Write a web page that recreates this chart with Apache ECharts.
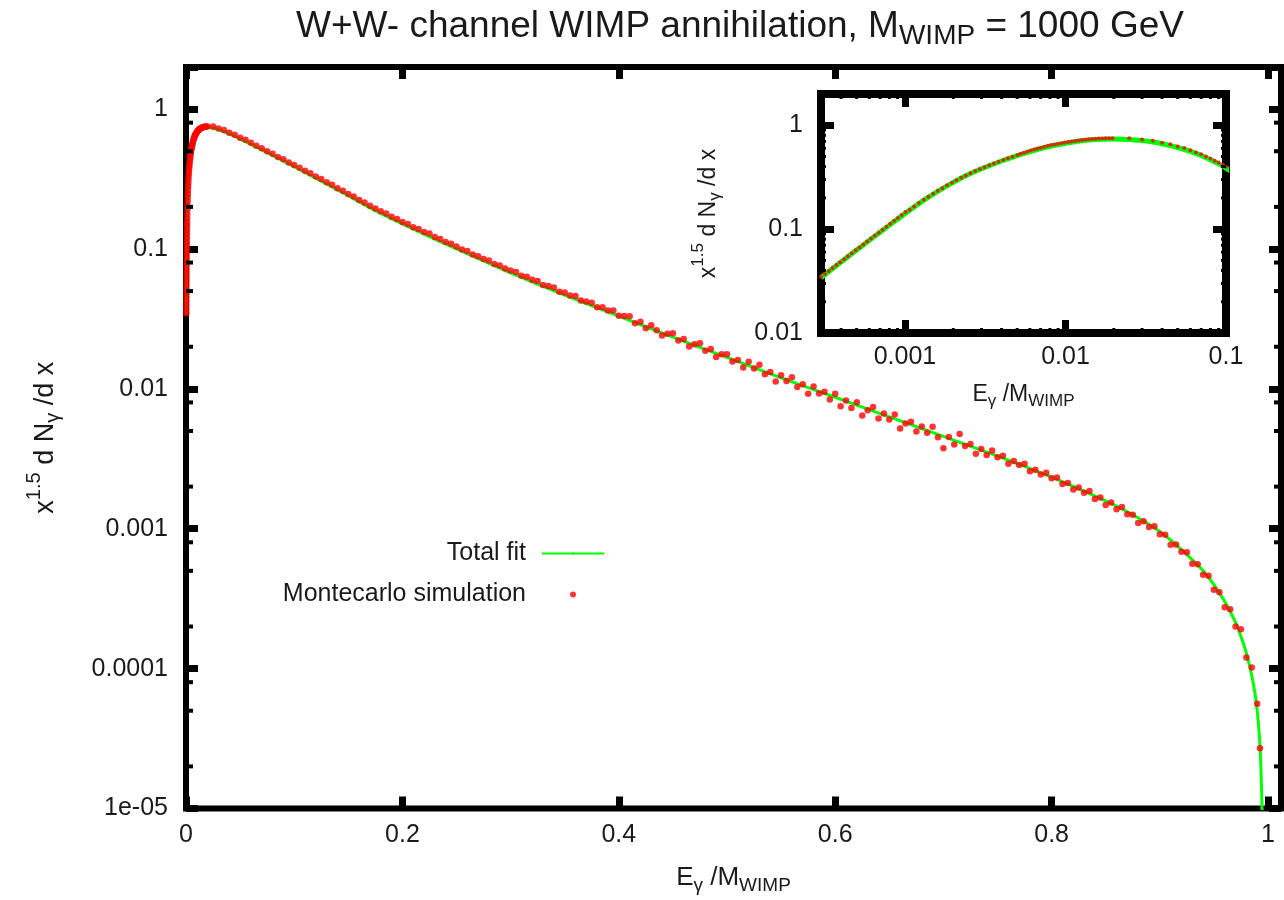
<!DOCTYPE html>
<html>
<head>
<meta charset="utf-8">
<title>W+W- channel WIMP annihilation, M_WIMP = 1000 GeV</title>
<script src="https://cdn.jsdelivr.net/npm/echarts@6/dist/echarts.min.js"></script>
<style>
  html, body { margin: 0; padding: 0; background: #ffffff; }
  #chart { width: 1284px; height: 900px; }
</style>
</head>
<body>
<div id="chart"></div>
<script>
// Photon spectrum x^1.5 dN/dx against x = E_gamma / M_WIMP (W+W- channel, M_WIMP = 1000 GeV)

// Total fit curve: [x, x^1.5 dN/dx]
const fitCurve = [
  [0.0003, 0.0341], [0.0004, 0.0483], [0.0005, 0.0630], [0.0006, 0.0780], [0.0008, 0.109],
  [0.001, 0.141], [0.0013, 0.188], [0.0016, 0.231], [0.002, 0.282], [0.0025, 0.337],
  [0.003, 0.381], [0.004, 0.453], [0.005, 0.510], [0.006, 0.558], [0.008, 0.628],
  [0.01, 0.672], [0.012, 0.702], [0.014, 0.720], [0.017, 0.734], [0.02, 0.738],
  [0.025, 0.730], [0.03, 0.712], [0.035, 0.689], [0.04, 0.664], [0.045, 0.637],
  [0.05, 0.611], [0.06, 0.560], [0.07, 0.511], [0.08, 0.466], [0.09, 0.425],
  [0.1, 0.387], [0.125, 0.305], [0.15, 0.240], [0.175, 0.188], [0.2, 0.151],
  [0.25, 0.100], [0.3, 0.0676], [0.35, 0.0468], [0.4, 0.0331], [0.45, 0.0234],
  [0.5, 0.0168], [0.55, 0.0120], [0.6, 0.00871], [0.65, 0.00631], [0.7, 0.00457],
  [0.75, 0.00331], [0.8, 0.00234], [0.85, 0.00158], [0.875, 0.00126], [0.9, 0.000955],
  [0.92, 0.000708], [0.94, 0.000501], [0.95, 0.000398], [0.96, 0.000302], [0.97, 0.000214],
  [0.975, 0.00017], [0.98, 0.000129], [0.985, 0.0000891], [0.988, 0.0000661], [0.99, 0.0000501],
  [0.992, 0.0000331], [0.993, 0.000024], [0.994, 0.0000141], [0.995, 0.0000063]
];

// Monte Carlo simulation, fine low-energy bins: [x, x^1.5 dN/dx]
const mcLow = [
  [0.000300, 0.0347], [0.000317, 0.0370], [0.000335, 0.0395], [0.000354, 0.0422], [0.000374, 0.0451],
  [0.000395, 0.0481], [0.000418, 0.0513], [0.000441, 0.0548], [0.000466, 0.0585], [0.000493, 0.0625],
  [0.000521, 0.0667], [0.000550, 0.0711], [0.000581, 0.0760], [0.000614, 0.0811], [0.000649, 0.0867],
  [0.000686, 0.0925], [0.000725, 0.0987], [0.000766, 0.1054], [0.000809, 0.1125], [0.000855, 0.1202],
  [0.000903, 0.1283], [0.000954, 0.1368], [0.001008, 0.146],
  [0.00107, 0.154], [0.00114, 0.165], [0.00122, 0.178], [0.00131, 0.192], [0.00140, 0.205],
  [0.00150, 0.2195], [0.00160, 0.234], [0.00171, 0.248], [0.00183, 0.264], [0.00196, 0.280],
  [0.00209, 0.295], [0.00224, 0.312], [0.00239, 0.328], [0.00256, 0.346], [0.00274, 0.362],
  [0.00293, 0.380], [0.00313, 0.396], [0.00335, 0.412], [0.00358, 0.429], [0.00383, 0.446],
  [0.00410, 0.464], [0.00438, 0.481], [0.00468, 0.498], [0.00501, 0.516],
  [0.00525, 0.532], [0.00551, 0.545], [0.00579, 0.558], [0.00608, 0.571], [0.00638, 0.583],
  [0.00670, 0.596], [0.00704, 0.609], [0.00739, 0.622], [0.00776, 0.635], [0.00815, 0.644],
  [0.00855, 0.653], [0.00898, 0.663], [0.00943, 0.673], [0.00990, 0.682], [0.01040, 0.691],
  [0.01092, 0.699], [0.01146, 0.707], [0.01203, 0.715], [0.01264, 0.721], [0.01327, 0.727],
  [0.01393, 0.734], [0.01463, 0.737], [0.01536, 0.740], [0.01613, 0.744], [0.01693, 0.747],
  [0.01778, 0.749], [0.01867, 0.750], [0.01960, 0.751]
];

// Monte Carlo simulation, coarse bins up to the kinematic end point: [x, x^1.5 dN/dx]
const mcHigh = [
  [0.025, 0.750], [0.030, 0.728], [0.035, 0.708], [0.040, 0.679], [0.045, 0.655],
  [0.050, 0.625], [0.055, 0.603], [0.060, 0.575], [0.065, 0.547], [0.070, 0.526],
  [0.075, 0.500], [0.080, 0.479], [0.085, 0.455], [0.090, 0.438], [0.095, 0.416],
  [0.100, 0.398], [0.105, 0.381], [0.110, 0.362], [0.115, 0.348], [0.120, 0.330],
  [0.125, 0.316], [0.130, 0.300], [0.135, 0.288], [0.140, 0.272], [0.145, 0.261],
  [0.150, 0.247], [0.155, 0.237], [0.160, 0.224], [0.165, 0.215], [0.170, 0.204],
  [0.175, 0.195], [0.180, 0.186], [0.185, 0.179], [0.190, 0.170], [0.195, 0.164],
  [0.200, 0.156], [0.205, 0.151], [0.210, 0.143], [0.215, 0.139], [0.220, 0.132],
  [0.225, 0.129], [0.230, 0.122], [0.235, 0.118], [0.240, 0.112], [0.245, 0.109],
  [0.250, 0.104], [0.255, 0.0991], [0.260, 0.0966], [0.265, 0.0914], [0.270, 0.0889],
  [0.275, 0.0849], [0.280, 0.0828], [0.285, 0.0780], [0.290, 0.0762], [0.295, 0.0724],
  [0.300, 0.0702], [0.305, 0.0686], [0.310, 0.0643], [0.315, 0.0632], [0.320, 0.0603],
  [0.325, 0.0590], [0.330, 0.0553], [0.335, 0.0543], [0.340, 0.0531], [0.345, 0.0494],
  [0.350, 0.0488], [0.355, 0.0465], [0.360, 0.0461], [0.365, 0.0428], [0.370, 0.0422],
  [0.375, 0.0413], [0.380, 0.0384], [0.385, 0.0383], [0.390, 0.0364], [0.395, 0.0364],
  [0.400, 0.0333], [0.405, 0.0332], [0.410, 0.0331], [0.415, 0.0295], [0.420, 0.0302],
  [0.425, 0.0271], [0.430, 0.0285], [0.435, 0.0262], [0.440, 0.0241], [0.445, 0.0248],
  [0.450, 0.0250], [0.455, 0.0222], [0.460, 0.0227], [0.465, 0.0201], [0.470, 0.0208],
  [0.475, 0.0212], [0.480, 0.0187], [0.485, 0.0193], [0.490, 0.0169], [0.495, 0.0177],
  [0.500, 0.0177], [0.505, 0.0157], [0.510, 0.0161], [0.515, 0.0142], [0.520, 0.0156],
  [0.525, 0.0140], [0.530, 0.0149], [0.535, 0.0127], [0.540, 0.0132], [0.545, 0.0113],
  [0.550, 0.0125], [0.555, 0.0114], [0.560, 0.0121], [0.565, 0.0103], [0.570, 0.0108],
  [0.575, 0.00923], [0.580, 0.0104], [0.585, 0.00927], [0.590, 0.00955], [0.595, 0.00839],
  [0.600, 0.00923], [0.605, 0.00752], [0.610, 0.00826], [0.615, 0.00730], [0.620, 0.00802],
  [0.625, 0.00646], [0.630, 0.00702], [0.635, 0.00741], [0.640, 0.00614], [0.645, 0.00667],
  [0.650, 0.00603], [0.655, 0.00655], [0.660, 0.00521], [0.665, 0.00566], [0.670, 0.00583],
  [0.675, 0.00495], [0.680, 0.00538], [0.685, 0.00486], [0.690, 0.00535], [0.695, 0.00451],
  [0.700, 0.00376], [0.705, 0.00453], [0.710, 0.00400], [0.715, 0.00476], [0.720, 0.00391],
  [0.725, 0.00403], [0.730, 0.00344], [0.735, 0.00372], [0.740, 0.00337], [0.745, 0.00362],
  [0.750, 0.00324], [0.755, 0.00333], [0.760, 0.00292], [0.765, 0.00305], [0.770, 0.00285],
  [0.775, 0.00292], [0.780, 0.00258], [0.785, 0.00264], [0.790, 0.00244], [0.795, 0.00251],
  [0.800, 0.00230], [0.805, 0.00232], [0.810, 0.00209], [0.815, 0.00212], [0.820, 0.00191],
  [0.825, 0.00197], [0.830, 0.00181], [0.835, 0.00186], [0.840, 0.00163], [0.845, 0.00167],
  [0.850, 0.00148], [0.855, 0.00154], [0.860, 0.00138], [0.865, 0.00143], [0.870, 0.00127],
  [0.875, 0.00126], [0.880, 0.00110], [0.885, 0.00113], [0.890, 0.00103], [0.895, 0.00104],
  [0.900, 0.000912], [0.905, 0.000906], [0.910, 0.000767], [0.915, 0.000771], [0.920, 0.000684],
  [0.925, 0.000679], [0.930, 0.000562], [0.935, 0.000558], [0.940, 0.000468], [0.945, 0.000462],
  [0.950, 0.000367], [0.955, 0.000351], [0.960, 0.000275], [0.965, 0.000266], [0.970, 0.000200],
  [0.975, 0.000191], [0.980, 0.000120], [0.985, 0.000102], [0.990, 0.0000562], [0.9925, 0.0000270]
];

// Tick values and their printed labels
const mainXTicks = [0, 0.2, 0.4, 0.6, 0.8, 1];
const mainXTickLabels = ['0', '0.2', '0.4', '0.6', '0.8', '1'];
const mainYTicks = [1e-5, 1e-4, 1e-3, 1e-2, 0.1, 1];
const mainYTickLabels = ['1e-05', '0.0001', '0.001', '0.01', '0.1', '1'];
const mainYMinorTicks = [2e-5, 5e-5, 8e-5, 2e-4, 5e-4, 8e-4, 0.002, 0.005, 0.008,
                         0.02, 0.05, 0.08, 0.2, 0.5, 0.8];
const insetXTicks = [0.001, 0.01, 0.1];
const insetXTickLabels = ['0.001', '0.01', '0.1'];
const insetXMinorTicks = [0.0004, 0.0005, 0.0006, 0.0007, 0.0008, 0.0009,
                          0.002, 0.003, 0.004, 0.005, 0.006, 0.007, 0.008, 0.009,
                          0.02, 0.03, 0.04, 0.05, 0.06, 0.07, 0.08, 0.09];
const insetYTicks = [0.01, 0.1, 1];
const insetYTickLabels = ['0.01', '0.1', '1'];
const insetYMinorTicks = [0.02, 0.03, 0.04, 0.05, 0.06, 0.07, 0.08, 0.09,
                          0.2, 0.3, 0.4, 0.5, 0.6, 0.7, 0.8, 0.9];

const FONT = "'Liberation Sans', Arial, sans-serif";
const INK = '#1a1a1a';
const GREEN = '#00ff00';
const RED = '#ff0000';

const mcPoints = mcLow.concat(mcHigh);

function tickFormatter(ticks, labels) {
  return function (v) {
    for (let i = 0; i < ticks.length; i++) {
      const t = ticks[i];
      const hit = t === 0 ? Math.abs(v) < 1e-9 : Math.abs(v / t - 1) < 1e-6;
      if (hit) return labels[i];
    }
    return '';
  };
}

// Short inward marks on both opposite frame edges for minor tick values
function minorTickSeries(xIdx, yIdx, dim, values, ref, len, width) {
  return {
    type: 'custom',
    xAxisIndex: xIdx,
    yAxisIndex: yIdx,
    silent: true,
    clip: false,
    z: 6,
    data: values.map(v => (dim === 'y' ? [ref, v] : [v, ref])),
    renderItem: function (params, api) {
      const cs = params.coordSys;
      const p = api.coord([api.value(0), api.value(1)]);
      const style = { stroke: '#000', lineWidth: width };
      if (dim === 'y') {
        return {
          type: 'group',
          children: [
            { type: 'line', shape: { x1: cs.x, y1: p[1], x2: cs.x + len, y2: p[1] }, style: style },
            { type: 'line', shape: { x1: cs.x + cs.width, y1: p[1], x2: cs.x + cs.width - len, y2: p[1] }, style: style }
          ]
        };
      }
      return {
        type: 'group',
        children: [
          { type: 'line', shape: { x1: p[0], y1: cs.y + cs.height, x2: p[0], y2: cs.y + cs.height - len }, style: style },
          { type: 'line', shape: { x1: p[0], y1: cs.y, x2: p[0], y2: cs.y + len }, style: style }
        ]
      };
    }
  };
}

function labelStyle(margin) {
  return { margin: margin, fontSize: 25, color: INK, fontFamily: FONT };
}

// Rich text styles for axis titles with super- and subscripts
function nameRich(base, subSize, drop, baseTop) {
  return {
    fontFamily: FONT,
    color: INK,
    rich: {
      b: { fontSize: base, lineHeight: base, fontFamily: FONT, color: INK, verticalAlign: 'top', padding: [baseTop, 0, 0, 0] },
      sup: { fontSize: subSize, lineHeight: subSize, fontFamily: FONT, color: INK, verticalAlign: 'top', padding: [0, 0, 0, 0] },
      sub: { fontSize: subSize, lineHeight: subSize, fontFamily: FONT, color: INK, verticalAlign: 'top',
             padding: [baseTop + base / 2 + drop - subSize / 2, 0, 0, 0] }
    }
  };
}

const xName = '{b|E}{sub|γ}{b| /M}{sub|WIMP}';
const yName = '{b|x}{sup|1.5}{b| d N}{sub|γ}{b| /d x}';

const majorTick = (len, w) => ({ show: true, inside: true, length: len, lineStyle: { color: '#000', width: w } });

const chart = echarts.init(document.getElementById('chart'), null, { renderer: 'canvas' });

chart.setOption({
  animation: false,
  backgroundColor: '#ffffff',
  graphic: {
    elements: [{
      type: 'text',
      x: 740,
      y: 8,
      z: 10,
      style: {
        text: '{b|W+W- channel WIMP annihilation, M}{s|WIMP}{b| = 1000 GeV}',
        align: 'center',
        verticalAlign: 'top',
        fill: INK,
        rich: {
          b: { fontSize: 37, lineHeight: 37, fontFamily: FONT, fill: INK, verticalAlign: 'top', padding: [0, 0, 0, 0] },
          s: { fontSize: 28, lineHeight: 28, fontFamily: FONT, fill: INK, verticalAlign: 'top', padding: [14, 0, 0, 0] }
        }
      }
    }]
  },
  grid: [
    { left: 186, top: 67, width: 1101, height: 750, show: true, borderWidth: 6, borderColor: '#000', backgroundColor: 'transparent' },
    { left: 821, top: 94, width: 405, height: 239, show: true, borderWidth: 8, borderColor: '#000', backgroundColor: '#ffffff' }
  ],
  xAxis: [
    {
      gridIndex: 0, type: 'value', position: 'bottom', min: 0, max: 1.012, interval: 0.2,
      axisLine: { show: false, onZero: false }, splitLine: { show: false },
      axisTick: majorTick(12, 7),
      axisLabel: Object.assign(labelStyle(14), { formatter: tickFormatter(mainXTicks, mainXTickLabels) }),
      name: xName, nameLocation: 'middle', nameGap: 56,
      nameTextStyle: nameRich(26, 19, 8, 0)
    },
    {
      gridIndex: 0, type: 'value', position: 'top', min: 0, max: 1.012, interval: 0.2,
      axisLine: { show: false, onZero: false }, splitLine: { show: false },
      axisTick: majorTick(12, 7), axisLabel: { show: false }
    },
    {
      gridIndex: 1, type: 'log', logBase: 10, position: 'bottom', min: 0.0003, max: 0.1,
      axisLine: { show: false, onZero: false }, splitLine: { show: false },
      axisTick: majorTick(13, 7),
      axisLabel: Object.assign(labelStyle(12), { formatter: tickFormatter(insetXTicks, insetXTickLabels) }),
      name: xName, nameLocation: 'middle', nameGap: 50,
      nameTextStyle: nameRich(23, 17, 7, 0)
    },
    {
      gridIndex: 1, type: 'log', logBase: 10, position: 'top', min: 0.0003, max: 0.1,
      axisLine: { show: false, onZero: false }, splitLine: { show: false },
      axisTick: majorTick(13, 7), axisLabel: { show: false }
    }
  ],
  yAxis: [
    {
      gridIndex: 0, type: 'log', logBase: 10, position: 'left', min: 1e-5, max: 2,
      axisLine: { show: false, onZero: false }, splitLine: { show: false },
      axisTick: majorTick(12, 7),
      axisLabel: Object.assign(labelStyle(18), { formatter: tickFormatter(mainYTicks, mainYTickLabels) }),
      name: yName, nameLocation: 'middle', nameGap: 135,
      nameTextStyle: nameRich(27, 20, 8, 8)
    },
    {
      gridIndex: 0, type: 'log', logBase: 10, position: 'right', min: 1e-5, max: 2,
      axisLine: { show: false, onZero: false }, splitLine: { show: false },
      axisTick: majorTick(12, 7), axisLabel: { show: false }
    },
    {
      gridIndex: 1, type: 'log', logBase: 10, position: 'left', min: 0.01, max: 2,
      axisLine: { show: false, onZero: false }, splitLine: { show: false },
      axisTick: majorTick(13, 7),
      axisLabel: Object.assign(labelStyle(18), { formatter: tickFormatter(insetYTicks, insetYTickLabels) }),
      name: yName, nameLocation: 'middle', nameGap: 108,
      nameTextStyle: nameRich(23, 17, 7, 7)
    },
    {
      gridIndex: 1, type: 'log', logBase: 10, position: 'right', min: 0.01, max: 2,
      axisLine: { show: false, onZero: false }, splitLine: { show: false },
      axisTick: majorTick(13, 7), axisLabel: { show: false }
    }
  ],
  legend: [
    {
      data: ['Total fit'],
      orient: 'vertical', align: 'right', right: 679, top: 541, padding: 0,
      itemWidth: 62, itemHeight: 3, selectedMode: false,
      textStyle: { fontSize: 25, color: INK, fontFamily: FONT, padding: [0, 11, 0, 0] }
    },
    {
      data: ['Montecarlo simulation'],
      orient: 'vertical', align: 'right', right: 708, top: 582, padding: 0,
      itemWidth: 62, itemHeight: 6, selectedMode: false,
      textStyle: { fontSize: 25, color: INK, fontFamily: FONT, padding: [0, 11, 0, 0] }
    }
  ],
  series: [
    {
      name: 'Total fit', type: 'line', xAxisIndex: 0, yAxisIndex: 0,
      data: fitCurve, symbol: 'none', showSymbol: false, smooth: 0.3, z: 3,
      lineStyle: { color: GREEN, width: 3 }, itemStyle: { color: GREEN }
    },
    {
      name: 'Montecarlo simulation', type: 'scatter', xAxisIndex: 0, yAxisIndex: 0,
      data: mcPoints, symbol: 'circle', symbolSize: 6.5, z: 4,
      itemStyle: { color: RED }
    },
    {
      name: 'Total fit', type: 'line', xAxisIndex: 2, yAxisIndex: 2,
      data: fitCurve, symbol: 'none', showSymbol: false, smooth: 0.3, z: 3,
      lineStyle: { color: GREEN, width: 5 }, itemStyle: { color: GREEN }
    },
    {
      name: 'Montecarlo simulation', type: 'scatter', xAxisIndex: 2, yAxisIndex: 2,
      data: mcPoints, symbol: 'circle', symbolSize: 4, z: 4,
      itemStyle: { color: RED }
    },
    minorTickSeries(0, 0, 'y', mainYMinorTicks, 0.5, 7, 4),
    minorTickSeries(2, 2, 'x', insetXMinorTicks, 0.1, 5, 3),
    minorTickSeries(2, 2, 'y', insetYMinorTicks, 0.01, 5, 3)
  ]
});
</script>
</body>
</html>
